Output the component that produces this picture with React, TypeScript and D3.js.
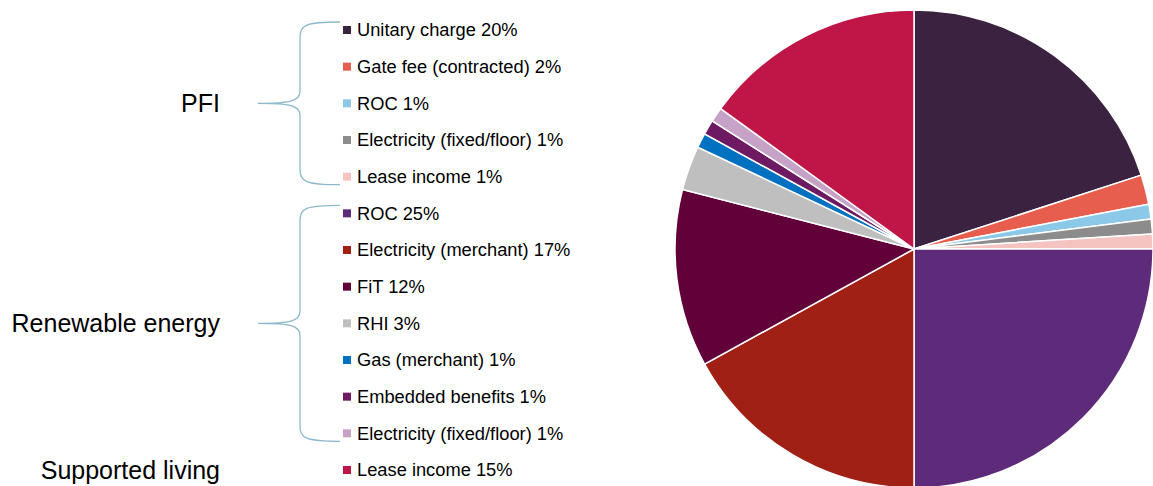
import React from "react";
import * as d3 from "d3";

const labels = [
  "Unitary charge",
  "Gate fee (contracted)",
  "ROC",
  "Electricity (fixed/floor)",
  "Lease income",
  "ROC",
  "Electricity (merchant)",
  "FiT",
  "RHI",
  "Gas (merchant)",
  "Embedded benefits",
  "Electricity (fixed/floor)",
  "Lease income",
];
const values = [20, 2, 1, 1, 1, 25, 17, 12, 3, 1, 1, 1, 15];
const colors = [
  "#3B2240",
  "#E85E4E",
  "#8CC8E8",
  "#8C8C8C",
  "#F5C4C0",
  "#5E2B7B",
  "#A02016",
  "#62003A",
  "#BFBFBF",
  "#0070C0",
  "#6D1A63",
  "#C6A2C6",
  "#C01547",
];
const groups = ["PFI", "Renewable energy", "Supported living"];
const groupStart = [0, 5, 12];
const groupEnd = [4, 11, 12];

export default function App() {
  const W = 1153, H = 486;
  const cx = 914, cy = 249, r = 239;
  const pie = d3.pie<number>().sort(null).value((d) => d)(values);
  const arc = d3.arc<d3.PieArcDatum<number>>().innerRadius(0).outerRadius(r);
  const legendY = d3.scaleLinear().domain([0, 12]).range([30, 470]);

  const brace = (y0: number, y1: number) => {
    const xr = 340, xm = 300, xt = 258;
    const ym = (y0 + y1) / 2;
    return `M${xr},${y0 - 8} C${xm + 5},${y0 - 8} ${xm},${y0 - 5} ${xm},${y0 + 8}
      L${xm},${ym - 12} C${xm},${ym - 2} ${xm - 10},${ym} ${xt},${ym}
      C${xm - 10},${ym} ${xm},${ym + 2} ${xm},${ym + 12}
      L${xm},${y1 - 8} C${xm},${y1 + 5} ${xm + 5},${y1 + 8} ${xr},${y1 + 8}`;
  };

  return (
    <svg width={W} height={H} style={{ position: "absolute", left: 0, top: 0 }}>
      <g transform={`translate(${cx},${cy})`}>
        {pie.map((p, i) => (
          <path key={i} d={arc(p) || ""} fill={colors[i]} stroke="#fff" strokeWidth={1.5} />
        ))}
      </g>
      {labels.map((l, i) => (
        <g key={i}>
          <rect x={343} y={legendY(i) - 4} width={8} height={8} fill={colors[i]} />
          <text
            x={357}
            y={legendY(i)}
            dy="0.35em"
            fontFamily="Liberation Sans, Arial, sans-serif"
            fontSize={18.3}
            fill="#000"
          >
            {`${l} ${values[i]}%`}
          </text>
        </g>
      ))}
      {groups.map((g, gi) => {
        const y0 = legendY(groupStart[gi]);
        const y1 = legendY(groupEnd[gi]);
        const ym = (y0 + y1) / 2;
        return (
          <g key={g}>
            {groupEnd[gi] > groupStart[gi] && (
              <path d={brace(y0, y1)} fill="none" stroke="#8DB9CC" strokeWidth={1.3} />
            )}
            <text
              x={220}
              y={ym}
              dy="0.35em"
              textAnchor="end"
              fontFamily="Liberation Sans, Arial, sans-serif"
              fontSize={25}
              fill="#000"
            >
              {g}
            </text>
          </g>
        );
      })}
    </svg>
  );
}
